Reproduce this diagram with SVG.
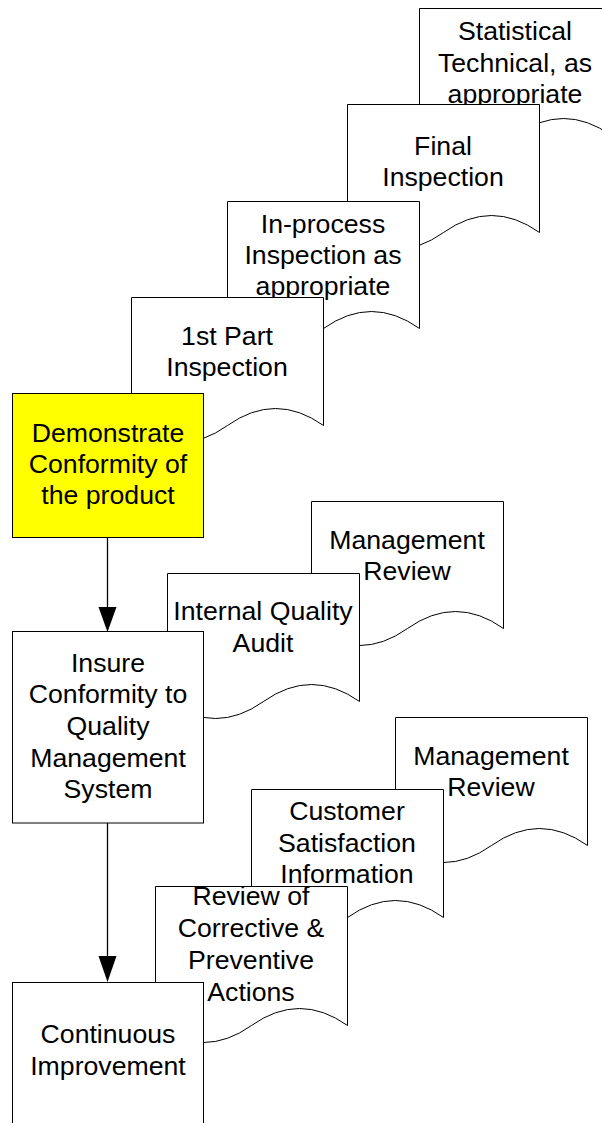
<svg xmlns="http://www.w3.org/2000/svg" width="602" height="1123" viewBox="0 0 602 1123">
<style>
.shape{fill:#fff;stroke:#000;stroke-width:1}
.yellow{fill:#ffff00}
text{font-family:"Liberation Sans",Arial,sans-serif;font-size:26.67px;fill:#000;text-anchor:middle}
.conn{stroke:#000;stroke-width:1.3;fill:none}
.head{fill:#000;stroke:none}
</style>
<defs>
<path id="doc192" d="M0,0 H192 V127 Q144,93 96,127 T0,127 Z"/>
</defs>

<g id="doc-statistical">
<path class="shape" d="M419.5,8.5 H611.5 V135.5 Q563.5,101.5 515.5,135.5 T419.5,135.5 Z"/>
<text x="515" y="40">Statistical</text>
<text x="515" y="72">Technical, as</text>
<text x="515" y="103">appropriate</text>
</g>
<g id="doc-final">
<path class="shape" d="M347.5,104.5 H539.5 V232.5 Q491.5,198.5 443.5,232.5 T347.5,232.5 Z"/>
<text x="443" y="155">Final</text>
<text x="443" y="186">Inspection</text>
</g>
<g id="doc-inprocess">
<path class="shape" d="M227.5,201.5 H419.5 V328.5 Q371.5,294.5 323.5,328.5 T227.5,328.5 Z"/>
<text x="323" y="233">In-process</text>
<text x="323" y="264">Inspection as</text>
<text x="323" y="295">appropriate</text>
</g>
<g id="doc-1stpart">
<path class="shape" d="M131.5,297.5 H323.5 V425.5 Q275.5,391.5 227.5,425.5 T131.5,425.5 Z"/>
<text x="227" y="345">1st Part</text>
<text x="227" y="376">Inspection</text>
</g>
<g id="node-demonstrate">
<rect class="shape yellow" x="12.5" y="393.5" width="191" height="144"/>
<text x="108" y="442">Demonstrate</text>
<text x="108" y="473">Conformity of</text>
<text x="108" y="504">the product</text>
</g>

<g id="doc-mgmt-review-1">
<path class="shape" d="M311.5,501.5 H503.5 V628.5 Q455.5,594.5 407.5,628.5 T311.5,628.5 Z"/>
<text x="407" y="549">Management</text>
<text x="407" y="580">Review</text>
</g>
<g id="doc-internal-audit">
<path class="shape" d="M167.5,573.5 H359.5 V701.5 Q311.5,667.5 263.5,701.5 T167.5,701.5 Z"/>
<text x="263" y="620">Internal Quality</text>
<text x="263" y="652">Audit</text>
</g>
<g id="node-insure">
<rect class="shape" x="12.5" y="631.5" width="191" height="191.5"/>
<text x="108" y="672">Insure</text>
<text x="108" y="703">Conformity to</text>
<text x="108" y="735">Quality</text>
<text x="108" y="767">Management</text>
<text x="108" y="798">System</text>
</g>

<g id="doc-mgmt-review-2">
<path class="shape" d="M395.5,717.5 H587.5 V845.5 Q539.5,811.5 491.5,845.5 T395.5,845.5 Z"/>
<text x="491" y="765">Management</text>
<text x="491" y="796">Review</text>
</g>
<g id="doc-customer">
<path class="shape" d="M251.5,789.5 H443.5 V917.5 Q395.5,883.5 347.5,917.5 T251.5,917.5 Z"/>
<text x="347" y="820">Customer</text>
<text x="347" y="852">Satisfaction</text>
<text x="347" y="883">Information</text>
</g>
<g id="doc-review-corrective">
<path class="shape" d="M155.5,886.5 H347.5 V1025.5 Q299.5,991.5 251.5,1025.5 T155.5,1025.5 Z"/>
<text x="251" y="905">Review of</text>
<text x="251" y="937">Corrective &amp;</text>
<text x="251" y="969">Preventive</text>
<text x="251" y="1001">Actions</text>
</g>
<g id="node-continuous">
<rect class="shape" x="12.5" y="982.5" width="191" height="200"/>
<text x="108" y="1043">Continuous</text>
<text x="108" y="1075">Improvement</text>
</g>

<g id="connectors">
<line class="conn" x1="107.5" y1="537.5" x2="107.5" y2="608"/>
<polygon class="head" points="98.5,607 116.5,607 107.5,632"/>
<line class="conn" x1="107.5" y1="823" x2="107.5" y2="957"/>
<polygon class="head" points="98.5,956 116.5,956 107.5,982"/>
</g>
</svg>
